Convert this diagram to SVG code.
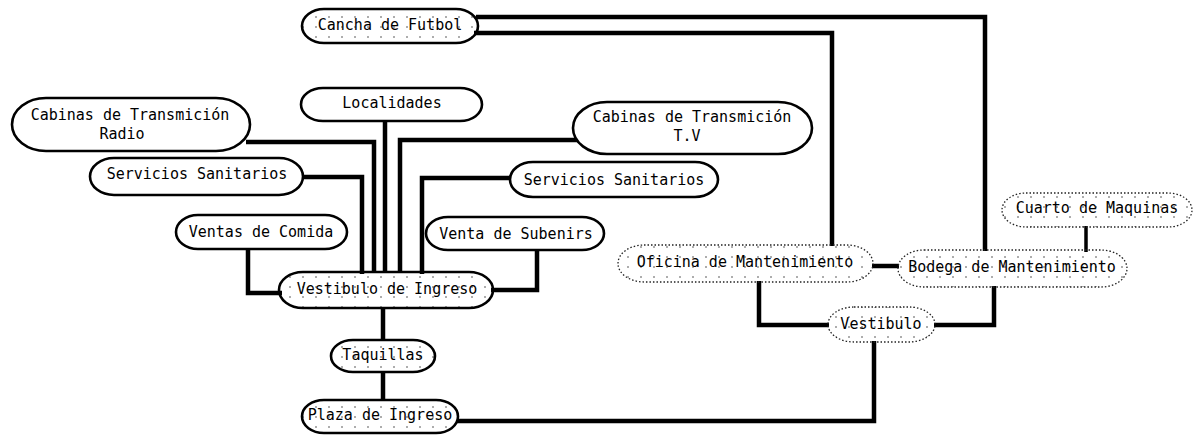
<svg xmlns="http://www.w3.org/2000/svg" width="1194" height="435" viewBox="0 0 1194 435">
<defs>
<pattern id="dots" x="0" y="2" width="13" height="10" patternUnits="userSpaceOnUse">
<circle cx="4" cy="5" r="0.8" fill="#444"/>
</pattern>
<style>
.bg{fill:#fff}
.n{fill:#fff;stroke:#000;stroke-width:2.6}
.d{fill:url(#dots);stroke:#000;stroke-width:2.6}
.dd{fill:url(#dots);stroke:#222;stroke-width:1.3;stroke-dasharray:1.5 2}
.t{font-family:"DejaVu Sans Mono","Liberation Mono",monospace;font-size:15px;fill:#000;text-anchor:middle;dominant-baseline:central}
.c{fill:none;stroke:#000;stroke-width:4.5;stroke-linejoin:miter}
</style>
</defs>
<rect class="bg" x="0" y="0" width="1194" height="435"/>
<g id="connectors">
<path class="c" d="M476,17 H985 V251"/>
<path class="c" d="M474,33 H832 V246"/>
<path class="c" d="M246,142 H374 V273"/>
<path class="c" d="M301,177 H362 V274"/>
<path class="c" d="M385,120 V272"/>
<path class="c" d="M578,140 H400 V272"/>
<path class="c" d="M512,178 H422 V274"/>
<path class="c" d="M248,248 V293 H282"/>
<path class="c" d="M537,249 V290 H491"/>
<path class="c" d="M383,307 V341"/>
<path class="c" d="M383,371 V401"/>
<path class="c" d="M457,421 H874 V341"/>
<path class="c" d="M759,281 V325 H829"/>
<path class="c" d="M994,286 V325 H934"/>
<path class="c" d="M872,266 H899"/>
<path class="c" d="M1086,226 V252" style="stroke-width:3.5"/>
</g>
<g id="cancha"><rect class="d" x="302" y="9" width="176" height="34" rx="22" ry="17"/><text class="t" x="390" y="25">Cancha de Futbol</text></g>
<g id="localidades"><rect class="n" x="301" y="88" width="181" height="33" rx="22" ry="16.5"/><text class="t" x="392" y="103">Localidades</text></g>
<g id="cabinas-radio"><rect class="n" x="12" y="98" width="238" height="53" rx="34" ry="26.5"/><text class="t" x="130" y="115">Cabinas de Transmición</text><text class="t" x="122" y="134">Radio</text></g>
<g id="cabinas-tv"><rect class="n" x="573" y="102" width="239" height="52" rx="34" ry="26"/><text class="t" x="692" y="117">Cabinas de Transmición</text><text class="t" x="687" y="136">T.V</text></g>
<g id="servicios-izq"><rect class="n" x="90" y="158" width="213" height="37" rx="24" ry="18.5"/><text class="t" x="197" y="174">Servicios Sanitarios</text></g>
<g id="servicios-der"><rect class="n" x="510" y="162" width="208" height="35" rx="23" ry="17.5"/><text class="t" x="614" y="180">Servicios Sanitarios</text></g>
<g id="ventas-comida"><rect class="n" x="176" y="215" width="171" height="34" rx="22" ry="17"/><text class="t" x="261" y="232">Ventas de Comida</text></g>
<g id="venta-subenirs"><rect class="n" x="426" y="217" width="178" height="33" rx="22" ry="16.5"/><text class="t" x="516" y="234">Venta de Subenirs</text></g>
<g id="vestibulo-ingreso"><rect class="d" x="279" y="272" width="214" height="36" rx="24" ry="18"/><text class="t" x="387" y="289">Vestibulo de Ingreso</text></g>
<g id="taquillas"><rect class="d" x="331" y="340" width="104" height="32" rx="22" ry="16"/><text class="t" x="383" y="355">Taquillas</text></g>
<g id="plaza-ingreso"><rect class="d" x="302" y="400" width="156" height="33" rx="22" ry="16.5"/><text class="t" x="380" y="415">Plaza de Ingreso</text></g>
<g id="oficina"><rect class="dd" x="618" y="245" width="255" height="37" rx="26" ry="18.5"/><text class="t" x="745" y="262">Oficina de Mantenimiento</text></g>
<g id="bodega"><rect class="dd" x="898" y="250" width="229" height="37" rx="26" ry="18.5"/><text class="t" x="1012" y="267">Bodega de Mantenimiento</text></g>
<g id="cuarto"><rect class="dd" x="1002" y="193" width="190" height="34" rx="24" ry="17"/><text class="t" x="1097" y="208">Cuarto de Maquinas</text></g>
<g id="vestibulo"><rect class="dd" x="828" y="307" width="107" height="35" rx="26" ry="17.5"/><text class="t" x="881" y="324">Vestibulo</text></g>
</svg>
